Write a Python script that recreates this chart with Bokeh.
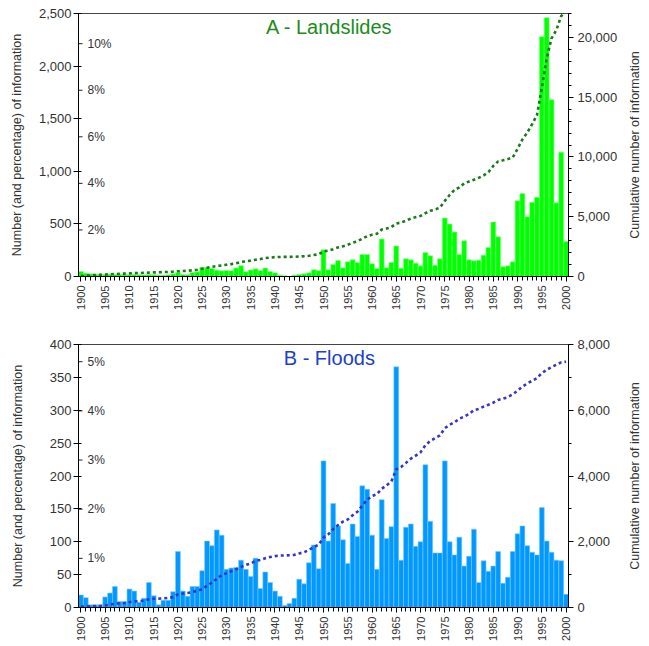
import numpy as np
from bokeh.plotting import figure
from bokeh.layouts import column, row
from bokeh.models import LinearAxis, Range1d, FixedTicker, Label, NumeralTickFormatter
from bokeh.embed import file_html
from bokeh.resources import INLINE
from bokeh.core.properties import value

years = list(range(1900, 2001))

landslides = [48, 32, 25, 22, 20, 20, 22, 19, 18, 17,
              16, 18, 16, 15, 18, 16, 13, 12, 15, 25,
              38, 19, 16, 38, 44, 86, 86, 76, 60, 54,
              57, 55, 80, 103, 45, 62, 73, 58, 80, 48,
              35, 13, 6, 0, 13, 19, 25, 35, 65, 55,
              254, 64, 115, 153, 83, 140, 159, 134, 210, 210,
              121, 76, 356, 83, 134, 290, 79, 168, 159, 127,
              101, 228, 197, 108, 168, 555, 498, 422, 209, 339,
              159, 149, 155, 203, 276, 517, 377, 92, 101, 140,
              720, 790, 568, 705, 753, 2280, 2460, 1680, 700, 1182,
              333]

floods = [19, 15, 4, 4, 4, 16, 22, 32, 9, 9,
          28, 25, 8, 14, 38, 18, 4, 11, 11, 24,
          85, 25, 17, 32, 32, 56, 101, 94, 118, 110,
          58, 60, 61, 72, 58, 47, 75, 29, 54, 38,
          25, 17, 3, 6, 14, 43, 36, 68, 95, 59,
          223, 101, 158, 124, 103, 67, 127, 108, 185, 180,
          110, 58, 164, 105, 123, 366, 72, 122, 127, 93,
          100, 217, 131, 83, 83, 223, 100, 80, 107, 63,
          78, 119, 38, 71, 55, 63, 85, 37, 46, 85,
          112, 124, 94, 84, 80, 152, 101, 84, 72, 71,
          20]

x_ticks = list(range(1900, 2001, 5))

land_left_ticks = [0, 500, 1000, 1500, 2000, 2500]
land_right_ticks = [0, 5000, 10000, 15000, 20000]
land_right_minor = list(range(0, 22001, 1000))
land_pct = [2, 4, 6, 8, 10]

flood_left_ticks = list(range(0, 401, 50))
flood_right_ticks = [0, 2000, 4000, 6000, 8000]
flood_right_minor = list(range(0, 8001, 1000))
flood_pct = [1, 2, 3, 4, 5]

right_title = "Cumulative number of information"
left_title = "Number (and percentage) of information"

FONT = "Liberation Sans"
TXT = "#333333"
FRAME_W = 490
FRAME_H = 263


def make_chart(title, title_color, data, bar_color, edge_color, cum_color,
               left_max, left_ticks, right_max, right_ticks, right_minor,
               pct, top_border, bottom_border, left_standoff):
    p = figure(x_range=Range1d(1899.5, 2000.5), y_range=Range1d(0, left_max),
               frame_width=FRAME_W, frame_height=FRAME_H,
               min_border_left=78, min_border_right=58,
               min_border_top=top_border, min_border_bottom=bottom_border,
               output_backend="svg", toolbar_location=None)
    p.extra_y_ranges = {"cum": Range1d(0, right_max)}
    p.grid.visible = False
    p.outline_line_color = "#444444"
    p.background_fill_color = "white"
    p.border_fill_color = "white"

    p.vbar(x=years, top=data, width=1, fill_color=bar_color,
           line_color=edge_color, line_width=0.6)

    cum = np.cumsum(data)
    p.line(x=years, y=cum, y_range_name="cum", line_color=cum_color,
           line_width=2.6, line_dash="3 3")

    total = float(np.sum(data))
    pct_y = [v * total / 100.0 for v in pct]
    p.scatter(x=[1899.5] * len(pct), y=pct_y, marker="dash", size=8,
              line_color="#222222", line_width=1)
    p.text(x=[1899.5] * len(pct), y=pct_y, text=[f"{v}%" for v in pct],
           x_offset=9, text_font=value(FONT), text_font_size="12px",
           text_color=TXT, text_baseline="middle", text_align="left")

    # x axis
    xa = p.xaxis[0]
    xa.ticker = FixedTicker(ticks=x_ticks, minor_ticks=years)
    xa.major_label_orientation = np.pi / 2
    xa.major_label_text_font = FONT
    xa.major_label_text_font_size = "11px"
    xa.major_label_text_color = TXT
    xa.major_tick_out = 5
    xa.major_tick_in = 0
    xa.minor_tick_out = 4
    xa.minor_tick_in = 0
    xa.axis_line_color = "black"
    xa.major_tick_line_color = "black"
    xa.minor_tick_line_color = "black"
    xa.major_label_standoff = 4

    # left axis
    ya = p.yaxis[0]
    ya.ticker = FixedTicker(ticks=left_ticks, minor_ticks=[])
    ya.formatter = NumeralTickFormatter(format="0,0")
    ya.axis_label = left_title
    ya.axis_label_text_font = FONT
    ya.axis_label_text_font_style = "normal"
    ya.axis_label_text_font_size = "12.5px"
    ya.axis_label_text_color = TXT
    ya.axis_label_standoff = left_standoff
    ya.major_label_text_font = FONT
    ya.major_label_text_font_size = "13px"
    ya.major_label_text_color = TXT
    ya.major_label_standoff = 2
    ya.major_tick_out = 5
    ya.major_tick_in = 3
    ya.axis_line_color = "black"
    ya.major_tick_line_color = "black"

    # right axis
    ra = LinearAxis(y_range_name="cum",
                    ticker=FixedTicker(ticks=right_ticks, minor_ticks=right_minor),
                    formatter=NumeralTickFormatter(format="0,0"))
    ra.major_label_text_font = FONT
    ra.major_label_text_font_size = "13px"
    ra.major_label_text_color = TXT
    ra.major_label_standoff = 4
    ra.major_tick_out = 5
    ra.major_tick_in = 0
    ra.minor_tick_out = 3
    ra.minor_tick_in = 0
    ra.axis_line_color = "black"
    ra.major_tick_line_color = "black"
    ra.minor_tick_line_color = "black"
    p.add_layout(ra, "right")

    p.add_layout(Label(x=1951.2, y=left_max, text=title, text_align="center",
                       text_baseline="top", y_offset=-2,
                       text_font=FONT, text_font_size="20px",
                       text_color=title_color))
    return p


def side_title(top_border, bottom_border):
    q = figure(x_range=Range1d(0, 1), y_range=Range1d(0, 1),
               frame_width=16, frame_height=FRAME_H,
               min_border_left=0, min_border_right=0,
               min_border_top=top_border, min_border_bottom=bottom_border,
               x_axis_location=None, y_axis_location=None,
               output_backend="svg", toolbar_location=None)
    q.grid.visible = False
    q.outline_line_color = None
    q.text(x=[0.5], y=[0.5], text=[right_title], angle=np.pi / 2,
           text_align="center", text_baseline="middle",
           text_font=value(FONT), text_font_size="12.5px", text_color=TXT)
    return q


p1 = make_chart("A - Landslides", "#1b8c1b", landslides, "#00ff00", "#7dff7d",
                "#1a7a1a", 2500, land_left_ticks, 22000, land_right_ticks,
                land_right_minor, land_pct, 13, 40, 12)
p2 = make_chart("B - Floods", "#2040c8", floods, "#0099ff", "#7fc8ff",
                "#3535c8", 400, flood_left_ticks, 8000, flood_right_ticks,
                flood_right_minor, flood_pct, 28, 35, 22)

layout = column(row(p1, side_title(13, 40), spacing=0),
                row(p2, side_title(28, 35), spacing=0), spacing=0)
open("out.html", "w").write(file_html(layout, INLINE))
